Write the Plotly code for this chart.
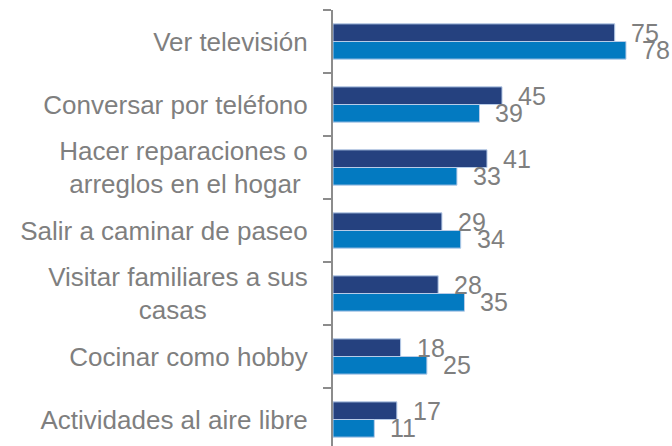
import plotly.graph_objects as go

categories = ["Ver televisión", "Conversar por teléfono", "Hacer reparaciones o<br>arreglos en el hogar ",
              "Salir a caminar de paseo", "Visitar familiares a sus<br>casas" + "\u00a0" * 14,
              "Cocinar como hobby", "Actividades al aire libre"]
serie_a = [75, 45, 41, 29, 28, 18, 17]
serie_b = [78, 39, 33, 34, 35, 25, 11]

col_a = "#25417F"
col_b = "#037AC1"
gray = "#7F7F7F"
font_family = "Liberation Sans, Arial"

fig = go.Figure()
fig.add_trace(go.Bar(y=categories, x=serie_a, orientation="h", name="A",
                     marker=dict(color=col_a, line=dict(color="#B8CCE8", width=1))))
fig.add_trace(go.Bar(y=categories, x=serie_b, orientation="h", name="B",
                     marker=dict(color=col_b, line=dict(color="#B8CCE8", width=1))))

off = 0.139
for i, (a, b) in enumerate(zip(serie_a, serie_b)):
    for v, dy in ((a, -off), (b, off)):
        fig.add_annotation(x=v, y=i + dy, text=str(v), showarrow=False,
                           xanchor="left", yanchor="middle", xshift=14,
                           font=dict(family=font_family, size=25, color=gray))

fig.update_layout(
    width=672, height=446,
    margin=dict(l=333, r=0, t=10, b=0),
    paper_bgcolor="white", plot_bgcolor="white",
    showlegend=False,
    barmode="group", bargap=0.44, bargroupgap=0,
    font=dict(family=font_family, color=gray),
)
fig.update_xaxes(range=[0, 90.25], visible=False, showgrid=False, zeroline=False)
fig.update_yaxes(type="category", categoryorder="array", categoryarray=categories,
                 range=[-0.5 + 436 / 63, -0.5], autorange=False,
                 showline=True, linecolor="#8C8C8C", linewidth=2,
                 ticks="outside", ticklen=8, tickwidth=1.5, tickcolor="#8C8C8C",
                 tickson="boundaries", ticklabelstandoff=18,
                 tickfont=dict(size=26, color=gray, family=font_family),
                 showgrid=False, zeroline=False, automargin=False)

fig.write_html("out.html", config={"displayModeBar": False},
               post_script="document.body.style.margin='0';document.body.style.overflow='hidden';")
